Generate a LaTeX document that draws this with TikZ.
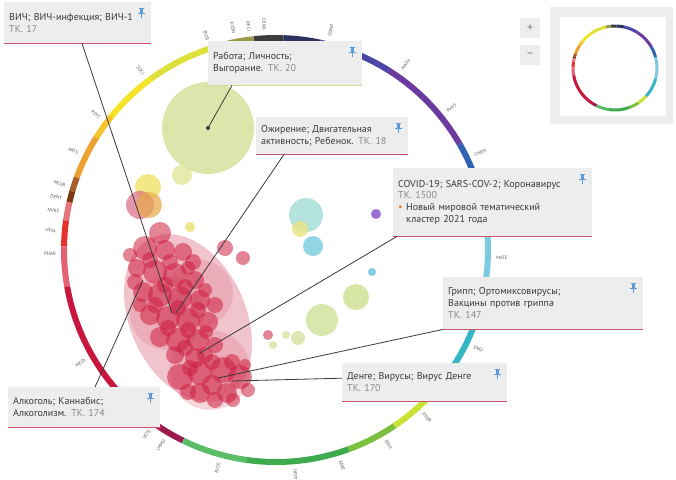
\documentclass[tikz,border=0pt]{standalone}
\usepackage{fontspec}
\setmainfont{PT Sans}
\definecolor{boxgray}{HTML}{EDEDED}
\definecolor{txt}{HTML}{3A3A3A}
\definecolor{tkgray}{HTML}{8A8A8A}
\definecolor{redline}{HTML}{C9556A}
\definecolor{rabline}{HTML}{D0DC8A}
\definecolor{pinblue}{HTML}{5B9BD5}
\definecolor{bulletc}{HTML}{E07A2A}
\definecolor{leader}{HTML}{3A3A3A}
\definecolor{cMate}{HTML}{7CC9E2}
\definecolor{cChem}{HTML}{2F62B0}
\definecolor{cPhys}{HTML}{6B3A9E}
\definecolor{cComp}{HTML}{4B47A8}
\definecolor{cNavy}{HTML}{2C3260}
\definecolor{cDark}{HTML}{3C3C3C}
\definecolor{cOlive}{HTML}{9A9A4A}
\definecolor{cYG}{HTML}{DDE03A}
\definecolor{cYel}{HTML}{F2E428}
\definecolor{cPsyc}{HTML}{F4C52C}
\definecolor{cArts}{HTML}{EFA032}
\definecolor{cNeur}{HTML}{A8602A}
\definecolor{cDent}{HTML}{7A3A14}
\definecolor{cNurs}{HTML}{E7747E}
\definecolor{cHeal}{HTML}{E5322E}
\definecolor{cPink}{HTML}{E56272}
\definecolor{cMedi}{HTML}{C8173F}
\definecolor{cVete}{HTML}{9B1B4F}
\definecolor{cGa}{HTML}{5CBD68}
\definecolor{cGb}{HTML}{40AA4E}
\definecolor{cGc}{HTML}{7CC040}
\definecolor{cEnvi}{HTML}{C9E234}
\definecolor{cEngi}{HTML}{36B6C4}
\definecolor{bRed}{HTML}{CE1F42}
\definecolor{bPale}{HTML}{E07C8E}
\definecolor{bYG}{HTML}{D5E29E}
\definecolor{bYGs}{HTML}{E2E89A}
\definecolor{bYellow}{HTML}{F0E36A}
\definecolor{bPinkL}{HTML}{D8607C}
\definecolor{bTan}{HTML}{E8A84A}
\definecolor{bYdot}{HTML}{E8E27A}
\definecolor{bTeal}{HTML}{A8DDD6}
\definecolor{bSky}{HTML}{7FCFE2}
\definecolor{bYsoft}{HTML}{EBE489}
\definecolor{bPurple}{HTML}{9C6ED6}
\definecolor{bGa}{HTML}{D3E39C}
\definecolor{bGb}{HTML}{D5E4A3}
\definecolor{bGc}{HTML}{DDE8B3}
\newcommand\ringsegs[2]{%
  \foreach \s/\e/\c in {-15/15/cMate,15/30/cChem,30/58/cPhys,58/78/cComp,78/88/cNavy,88/96/cDark,96/103/cOlive,103/126/cYG,126/141/cYel,141/148/cPsyc,148/160/cArts,160/164/cNeur,164/167/cDent,167/172/cNurs,172/179/cHeal,179/190/cPink,190/237/cMedi,237/244/cVete,244/262/cGa,262/290/cGb,290/304/cGc,304/318/cEnvi,318/345/cEngi}
  {\draw[line width=#2, color=\c] (\s:#1) arc[start angle=\s, end angle=\e, radius=#1];}}
\newcommand\tk[1]{{\color{tkgray}#1}}
\begin{document}
\begin{tikzpicture}[x=1pt,y=-1pt,
  infobox/.style={fill=boxgray, inner xsep=5pt, inner ysep=0pt, align=left, anchor=north west,
    font=\fontsize{10}{11.8}\selectfont, text=txt},
  redrule/.style={draw=redline, line width=1.6pt},
  leadline/.style={draw=leader, line width=0.8pt},
  lbl/.style={font=\fontsize{4.8}{6}\selectfont, text=black!65, inner sep=0pt},
  bub/.style={fill opacity=0.55},
  pushpin/.pic={
    \fill[pinblue] (-2.2,-5) rectangle (2.2,-3.8);
    \fill[pinblue] (-1.4,-3.8) rectangle (1.4,0);
    \fill[pinblue] (-3.2,0) rectangle (3.2,1.2);
    \draw[pinblue, line width=0.8pt] (0,1.2) -- (0,5);
  }]
\useasboundingbox (0,0) rectangle (676,479);
\fill[white] (0,0) rectangle (676,479);

% main ring
\begin{scope}[shift={(276,250)}, yscale=-1]
  \ringsegs{212}{6pt}
\end{scope}

% ring labels
\begin{scope}[shift={(276,250)}]
  \foreach \a/\t in {358/MATE,25.5/CHEM,39/PHYS,55/MATH,76/COMP,334/ENGI,312/ENER,300/ENVI,287/EART}
    {\node[lbl, rotate=\a, anchor=west] at (-\a:220) {\t};}
  \foreach \a/\t in {93/CENG,97/DECI,101/ECON,108/BUSI,127/SOCI,143/PSYC,154/ARTS,163/NEUR,166.5/DENT,170/NURS,175/HEAL,181/PHAR,210/MEDI,235/VETE,239.5/IMMU,255/BIOC,275/AGRI}
    {\node[lbl, rotate=\a-180, anchor=east] at (-\a:220) {\t};}
\end{scope}

% bubbles
\fill[bYG, opacity=0.85] (208,128) circle[radius=46];
\fill[bYGs, opacity=0.8] (182,175) circle[radius=10];
\fill[bYellow, opacity=0.8] (148,187) circle[radius=13];
\fill[bPinkL, opacity=0.65] (140,205) circle[radius=14];
\fill[bTan, opacity=0.7] (149,205) circle[radius=13];
\fill[bYdot, opacity=0.85] (190,227) circle[radius=5];
\fill[bTeal, opacity=0.85] (306,215) circle[radius=17];
\fill[bSky, opacity=0.85] (313,246) circle[radius=10];
\fill[bYsoft, opacity=0.85] (300,229) circle[radius=8];
\fill[bPurple] (376,214) circle[radius=5];
\fill[bSky] (372,272) circle[radius=4];
\fill[bGa, opacity=0.9] (356,297) circle[radius=13];
\fill[bGb, opacity=0.9] (322,320) circle[radius=16];
\fill[bGc] (298,338) circle[radius=7];
\fill[bGc] (286,335) circle[radius=4];
\fill[bGc] (273,345) circle[radius=4];

\fill[bPale, opacity=0.45, rotate around={24:(188,318)}] (188,318) ellipse[x radius=58, y radius=88];
\foreach \x/\y/\r in {200/293/33,167/313/37,210/370/40}
  {\fill[bPale, opacity=0.3] (\x,\y) circle[radius=\r];}
\foreach \x/\y/\r in {160/233/11,145/248/12,165/250/10,183/252/9,193/262/8,
  137/268/9,155/272/12,175/275/12,195/280/9,
  143/292/10,160/295/12,180/298/12,200/300/10,215/305/8,
  150/315/10,168/318/12,188/320/12,208/322/10,
  160/337/10,178/340/12,198/340/11,215/345/8,
  175/355/9,195/358/10,
  180/377/13,200/373/12,223/370/13,240/377/12,227/393/10,200/393/10,233/400/7,212/385/10,248/390/7,
  225/248/8,243/258/7,268/335/5,
  130/255/7,150/260/8,170/262/8,188/268/7,135/282/8,165/285/8,185/287/8,205/290/7,
  155/305/8,178/308/8,198/310/8,140/305/7,168/328/8,188/330/8,206/332/7,185/348/8,
  205/355/8,190/368/8,212/362/8,232/362/8,188/392/8,215/400/8,245/365/6}
  {\fill[bRed, bub] (\x,\y) circle[radius=\r];}

% targets of leader lines
\coordinate (tVich) at (172,313);
\coordinate (tRab) at (208,128);
\coordinate (tOzh) at (176,313);
\coordinate (tCov) at (200,353);
\coordinate (tGri) at (218,378);
\coordinate (tDen) at (232,381);
\coordinate (tAlk) at (143,280);

% boxes
\node[infobox, text width=137pt, minimum height=41pt] (vich) at (4,2)
  {ВИЧ; ВИЧ-инфекция; ВИЧ-1\\\tk{ТК. 17}};
\node[infobox, text width=144pt, minimum height=44pt] (rabota) at (208,41)
  {Работа; Личность;\\Выгорание. \tk{ТК. 20}};
\node[infobox, text width=142pt, minimum height=37pt] (ozhir) at (256,117)
  {Ожирение; Двигательная\\активность; Ребенок. \tk{ТК. 18}};
\node[infobox, text width=189pt, minimum height=68pt] (covid) at (393,168)
  {COVID-19; SARS-COV-2; Коронавирус\\\tk{ТК. 1500}\\{\color{bulletc}•}\ Новый мировой тематический\\\hspace*{8pt}кластер 2021 года};
\node[infobox, text width=190pt, minimum height=52pt] (gripp) at (443,277)
  {Грипп; Ортомиксовирусы;\\Вакцины против гриппа\\\tk{ТК. 147}};
\node[infobox, text width=155pt, minimum height=38pt] (denge) at (342,363)
  {Денге; Вирусы; Вирус Денге\\\tk{ТК. 170}};
\node[infobox, text width=142pt, minimum height=40pt] (alko) at (8,387)
  {Алкоголь; Каннабис;\\Алкоголизм. \tk{ТК. 174}};

\draw[redrule] (vich.south west) -- (vich.south east);
\draw[draw=rabline, line width=1.2pt] (rabota.south west) -- (rabota.south east);
\draw[redrule] (ozhir.south west) -- (ozhir.south east);
\draw[redrule] (covid.south west) -- (covid.south east);
\draw[redrule] (gripp.south west) -- (gripp.south east);
\draw[redrule] (denge.south west) -- (denge.south east);
\draw[redrule] (alko.south west) -- (alko.south east);

\foreach \b in {vich,rabota,ozhir,covid,gripp,denge,alko}
  {\pic at ([shift={(-10,11)}]\b.north east) {pushpin};}

% leader lines
\draw[leadline] ([xshift=78pt]vich.south west) -- (tVich);
\draw[leadline] ([xshift=24pt]rabota.south west) -- (tRab);
\fill[leader] (tRab) circle[radius=2];
\draw[leadline] ([xshift=28pt]ozhir.south west) -- (tOzh);
\draw[leadline] ([xshift=4pt]covid.south west) -- (tCov);
\draw[leadline] (gripp.south west) -- (tGri);
\draw[leadline] ([yshift=4pt]denge.west) -- (tDen);
\draw[leadline] ([xshift=87pt]alko.north west) -- (tAlk);

% zoom buttons
\node[fill=boxgray, minimum width=20pt, minimum height=20pt, inner sep=0pt, anchor=north west,
  text=black!55, font=\fontsize{12}{12}\selectfont] (zin) at (520,18) {+};
\node[fill=boxgray, minimum width=20pt, minimum height=20pt, inner sep=0pt, anchor=north west,
  text=black!55, font=\fontsize{12}{12}\selectfont] (zout) at (520,45) {−};

% minimap
\fill[boxgray] (550,7) rectangle (673,124);
\fill[white] (560,17) rectangle (666,116);
\begin{scope}[shift={(615,68)}, yscale=-1]
  \ringsegs{42}{3pt}
\end{scope}
\end{tikzpicture}
\end{document}
